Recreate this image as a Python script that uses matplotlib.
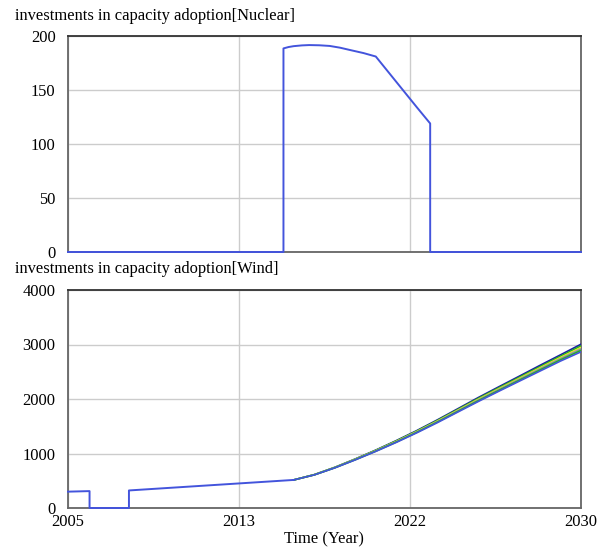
import matplotlib
matplotlib.use("Agg")
import matplotlib.pyplot as plt

# ---------------- data ----------------
nuc_t = [2005, 2015.5, 2015.5, 2015.75, 2016.0, 2016.4, 2016.75, 2017.25, 2017.75, 2018.25, 2018.75, 2019.4,
         2020.0, 2021.0, 2022.0, 2022.65, 2022.65, 2030]
nuc_v = [0, 0, 188.5, 189.8, 190.6, 191.3, 191.6, 191.4, 190.8, 189.2, 187.0, 184.2,
         181.0, 157.5, 134.0, 119.0, 0, 0]

wind_early_t = [2005, 2006.05, 2006.05, 2007.97, 2007.97, 2016]
wind_early_v = [300, 310, 0, 0, 322, 515]

wind_t = [2016, 2017, 2018, 2019, 2020, 2021, 2022, 2023, 2024, 2025, 2026, 2027, 2028, 2029, 2030]
wind_run1 = [515, 612, 746, 900, 1063, 1237, 1421, 1617, 1822, 2028, 2225, 2420, 2617, 2810, 3005]
wind_run2 = [515, 611, 744, 896, 1058, 1230, 1412, 1606, 1808, 2012, 2207, 2400, 2593, 2785, 2975]
wind_run3 = [515, 610, 742, 893, 1053, 1223, 1404, 1595, 1796, 1997, 2190, 2381, 2572, 2762, 2945]
wind_run4 = [515, 609, 740, 889, 1048, 1216, 1396, 1585, 1784, 1983, 2174, 2363, 2552, 2740, 2918]
wind_run5 = [515, 608, 738, 886, 1043, 1210, 1388, 1576, 1772, 1969, 2158, 2345, 2532, 2718, 2892]
wind_run6 = [515, 607, 736, 883, 1039, 1204, 1380, 1566, 1761, 1955, 2143, 2328, 2512, 2696, 2865]

x_ticks = [2005, 2005 + 25 / 3, 2005 + 50 / 3, 2030]
x_tick_labels = ["2005", "2013", "2022", "2030"]
nuc_yticks = [0, 50, 100, 150, 200]
wind_yticks = [0, 1000, 2000, 3000, 4000]

title_nuc = "investments in capacity adoption[Nuclear]"
title_wind = "investments in capacity adoption[Wind]"
xlabel = "Time (Year)"

# ---------------- style ----------------
plt.rcParams['font.family'] = ['Liberation Serif', 'DejaVu Serif']
FS = 11.9
W, H = 611, 548
fig = plt.figure(figsize=(W / 100, H / 100), dpi=100)

ax1 = fig.add_axes([68 / W, 1 - 252 / H, 513 / W, 216 / H])
ax2 = fig.add_axes([68 / W, 1 - 508 / H, 513 / W, 218 / H])

for ax, yt in ((ax1, nuc_yticks), (ax2, wind_yticks)):
    ax.set_xlim(2005, 2030)
    ax.set_ylim(yt[0], yt[-1])
    ax.set_xticks(x_ticks)
    ax.set_yticks(yt)
    ax.set_yticklabels([str(v) for v in yt], fontsize=FS)
    ax.grid(True, color='#cccccc', linewidth=1.0)
    ax.set_axisbelow(True)
    ax.tick_params(length=0, pad=9, axis='y')
    ax.tick_params(length=0, pad=4, axis='x')
    for s in ax.spines.values():
        s.set_color('#666666')
        s.set_linewidth(1.3)
    ax.spines['top'].set_color('#333333')

ax1.set_xticklabels([])
ax2.set_xticklabels(x_tick_labels, fontsize=FS)

# nuclear
ax1.plot(nuc_t, nuc_v, color='#4354dc', linewidth=1.4, clip_on=False, zorder=5)

# wind runs
runs = [
    (wind_run1, '#1a1aa8'),
    (wind_run2, '#22b022'),
    (wind_run3, '#e2e22a'),
    (wind_run4, '#9090a8'),
    (wind_run5, '#22b022'),
    (wind_run6, '#4354dc'),
]
for vals, col in runs:
    ax2.plot(wind_t, vals, color=col, linewidth=1.2, zorder=4)
ax2.plot(wind_early_t, wind_early_v, color='#4354dc', linewidth=1.4, clip_on=False, zorder=5)

fig.text(15 / W, 1 - 16 / H, title_nuc, fontsize=FS, va='center', ha='left')
fig.text(15 / W, 1 - 269 / H, title_wind, fontsize=FS, va='center', ha='left')
fig.text(324 / W, 1 - 539 / H, xlabel, fontsize=FS, va='center', ha='center')

fig.savefig("out.png", dpi=100)
